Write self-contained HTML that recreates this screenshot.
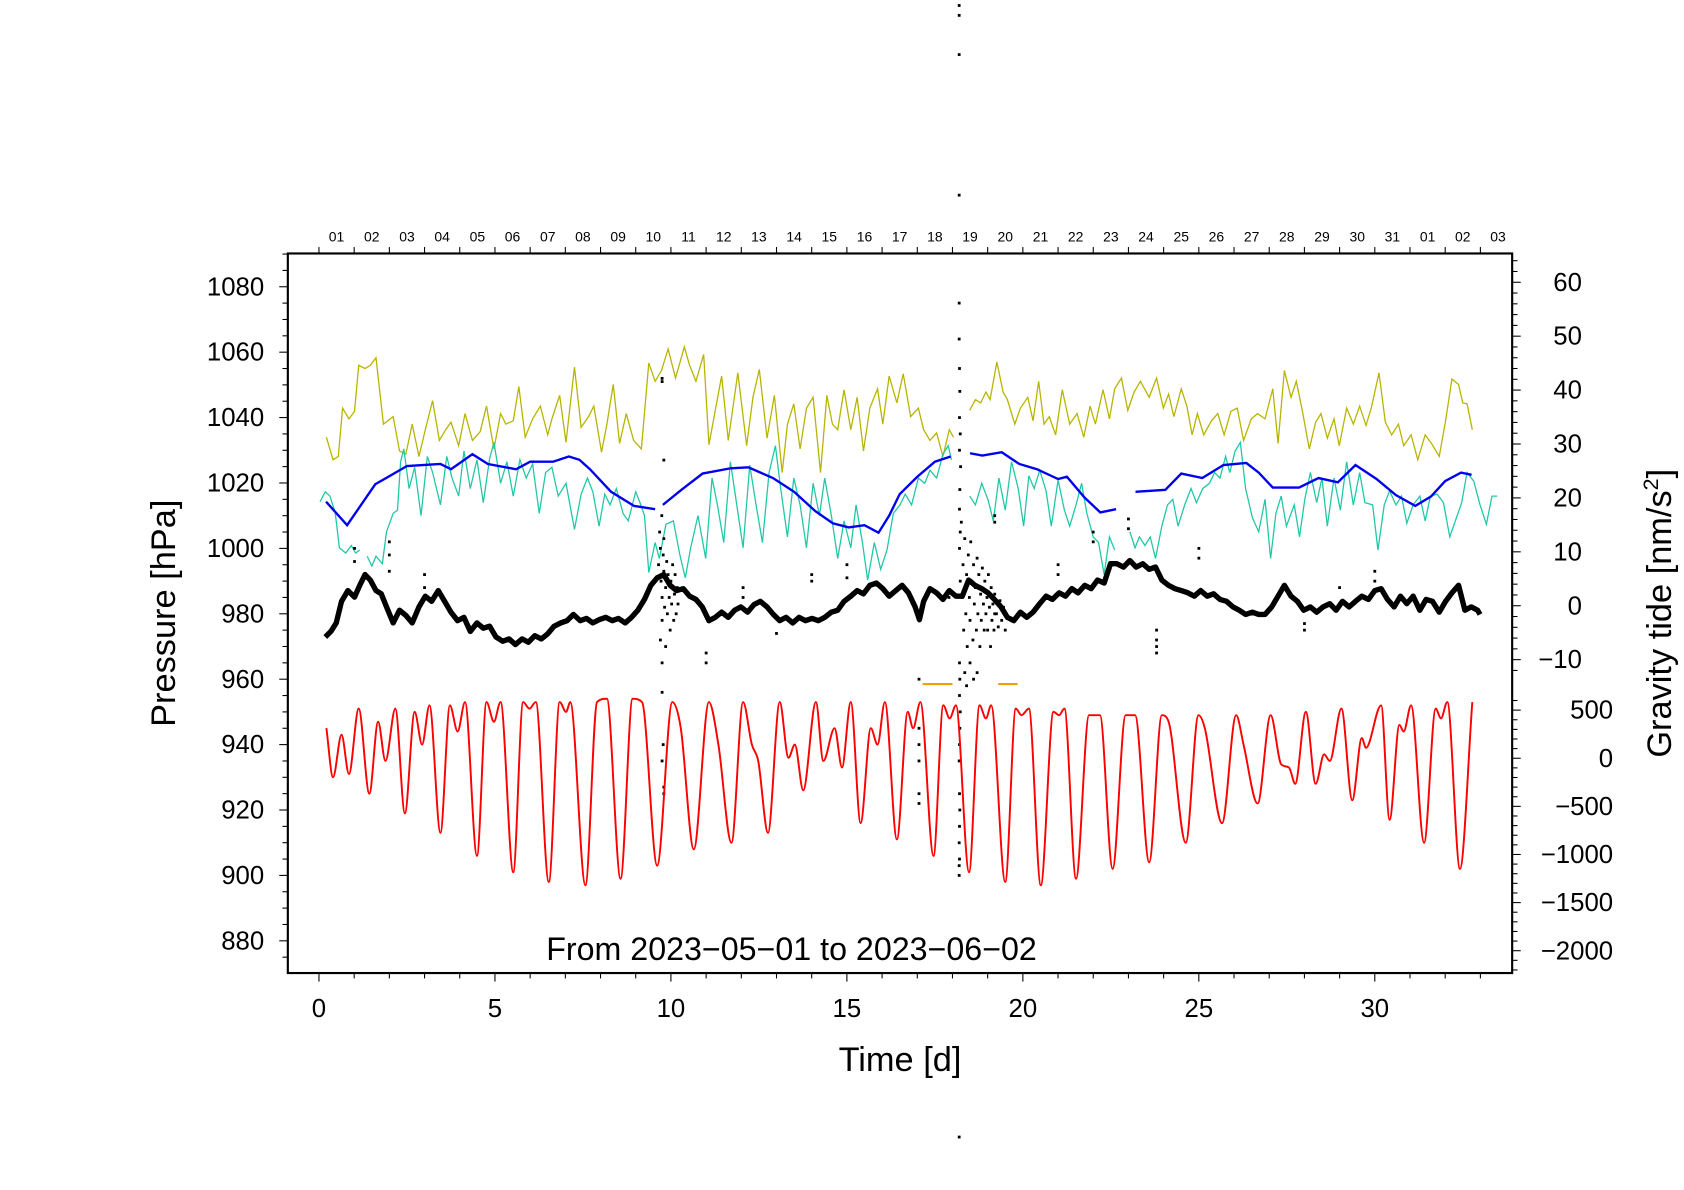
<!DOCTYPE html>
<html><head><meta charset="utf-8"><style>
html,body{margin:0;padding:0;background:#fff;}
svg{display:block;font-family:"Liberation Sans",Arial,sans-serif;}
</style></head><body>
<svg id="chart" width="1684" height="1190" viewBox="0 0 1568 1108" xmlns="http://www.w3.org/2000/svg">
<g id="grid"></g>
<g id="series"></g>
<g id="axes"></g>
<text x="737" y="894" font-size="30" text-anchor="middle">From 2023−05−01 to 2023−06−02</text>
<text x="838" y="997" font-size="32" text-anchor="middle">Time [d]</text>
<text transform="translate(163,571) rotate(-90)" font-size="32" text-anchor="middle">Pressure [hPa]</text>
<text transform="translate(1556,571) rotate(-90)" font-size="32" text-anchor="middle">Gravity tide [nm/s<tspan font-size="20" dy="-12">2</tspan><tspan dy="12">]</tspan></text>
</svg>
<script>
// ---------- data ----------
const xTicks = [0,5,10,15,20,25,30];
const pTicks = [880,900,920,940,960,980,1000,1020,1040,1060,1080];
const gUpperTicks = [-10,0,10,20,30,40,50,60];
const gLowerTicks = [-2000,-1500,-1000,-500,0,500];
const dayLabels = ["01","02","03","04","05","06","07","08","09","10","11","12","13","14","15","16","17","18","19","20","21","22","23","24","25","26","27","28","29","30","31","01","02","03"];

const redT = [0.21,0.40,0.64,0.85,1.13,1.43,1.68,1.89,2.17,2.44,2.72,2.93,3.14,3.45,3.72,3.94,4.15,4.49,4.76,4.97,5.16,5.52,5.80,5.98,6.16,6.53,6.84,7.02,7.14,7.57,7.90,8.18,8.57,8.91,9.18,9.61,10.04,10.28,10.65,11.08,11.35,11.72,12.05,12.30,12.48,12.76,13.09,13.34,13.52,13.76,14.12,14.33,14.65,14.86,15.11,15.39,15.68,15.87,16.08,16.42,16.73,16.88,17.09,17.46,17.74,17.92,18.10,18.47,18.77,18.95,19.10,19.50,19.80,19.96,20.17,20.51,20.87,21.03,21.18,21.51,21.88,22.19,22.55,22.92,23.19,23.59,23.95,24.14,24.63,24.99,25.17,25.66,26.06,26.27,26.67,27.04,27.34,27.56,27.74,28.04,28.32,28.56,28.72,29.05,29.36,29.63,29.75,30.18,30.42,30.70,30.82,31.03,31.40,31.73,31.88,32.06,32.42,32.77];
const redV = [312,-198,244,-164,516,-368,380,-28,516,-572,482,142,550,-776,550,278,584,-1014,584,380,584,-1184,584,516,584,-1286,584,482,584,-1320,584,618,-1252,618,584,-1116,584,312,-946,584,142,-878,584,142,-28,-776,584,6,142,-334,584,-28,312,-96,584,-674,312,142,584,-844,482,312,584,-1014,550,414,550,-1184,550,414,550,-1286,516,448,516,-1320,482,448,516,-1252,448,448,-1150,448,448,-1082,448,380,-878,448,312,-674,448,142,-470,448,-62,-96,-266,482,-266,40,-28,516,-436,210,108,550,-640,346,278,550,-878,516,414,584,-1150,584];

const blueT = [0.2,0.8,1.6,2.5,3.45,3.75,4.36,4.8,5.6,6.0,6.65,7.1,7.4,7.7,8.3,8.95,9.55,null,9.77,10.3,10.9,11.7,12.2,12.9,13.5,14.1,14.6,15.05,15.5,15.9,16.2,16.5,17.0,17.5,17.95,null,18.5,18.85,19.4,19.9,20.4,21.0,21.25,21.75,22.2,22.65,null,23.2,24.05,24.5,25.1,25.7,26.35,26.7,27.1,27.85,28.4,28.95,29.45,30.05,30.6,31.15,31.6,32.0,32.45,32.75];
const blueP = [1014.3,1007.1,1019.6,1025.2,1025.8,1024.2,1028.8,1025.8,1024.2,1026.5,1026.5,1028.1,1027.1,1024.2,1017.3,1013.0,1012.0,null,1013.3,1017.9,1022.9,1024.5,1024.8,1021.5,1017.3,1011.4,1007.7,1006.4,1007.1,1004.8,1010.0,1016.6,1021.9,1026.5,1028.1,null,1029.1,1028.4,1029.4,1025.8,1024.2,1021.2,1021.9,1015.6,1011.0,1012.0,null,1017.3,1017.9,1022.9,1021.5,1025.5,1026.1,1023.2,1018.6,1018.6,1021.5,1020.2,1025.5,1021.2,1016.3,1013.0,1015.9,1020.6,1023.2,1022.5];

const oliveT = [0.21,0.40,0.55,0.67,0.85,1.01,1.13,1.31,1.46,1.62,1.83,2.11,2.29,2.47,2.65,2.84,3.02,3.23,3.42,3.60,3.75,3.97,4.15,4.36,4.58,4.76,4.97,5.16,5.31,5.52,5.68,5.86,6.07,6.29,6.50,6.62,6.84,7.02,7.26,7.45,7.66,7.81,8.03,8.18,8.36,8.54,8.73,8.94,9.16,9.37,9.55,9.73,9.92,10.13,10.38,10.53,10.71,10.93,11.08,11.26,11.44,11.63,11.90,12.15,12.33,12.51,12.73,12.94,13.16,13.31,13.49,13.67,13.85,14.04,14.25,14.43,14.59,14.74,14.92,15.11,15.29,15.47,15.65,15.87,16.02,16.20,16.42,16.60,16.81,17.03,17.18,17.36,17.55,17.73,17.91,18.03,null,18.49,18.65,18.80,18.95,19.07,19.26,19.44,19.56,19.77,19.93,20.14,20.29,20.45,20.60,20.75,20.93,21.12,21.33,21.54,21.73,21.91,22.06,22.28,22.46,22.61,22.80,22.98,23.16,23.34,23.59,23.80,23.99,24.14,24.29,24.50,24.66,24.81,24.96,25.14,25.36,25.54,25.72,25.91,26.09,26.27,26.49,26.67,26.88,27.10,27.25,27.43,27.62,27.77,27.95,28.14,28.32,28.47,28.65,28.84,28.99,29.20,29.39,29.57,29.75,29.90,30.12,30.30,30.48,30.67,30.82,31.03,31.22,31.43,31.61,31.83,32.01,32.19,32.38,32.50,32.62,32.77];
const oliveP = [1034.0,1027.1,1028.1,1042.9,1039.6,1041.9,1056.0,1055.0,1056.0,1058.3,1038.0,1040.3,1029.8,1028.8,1038.0,1028.1,1036.3,1045.2,1033.0,1036.3,1038.6,1031.4,1041.2,1033.0,1035.7,1043.5,1030.4,1041.2,1038.0,1039.0,1049.5,1034.0,1039.6,1043.5,1034.7,1039.6,1046.8,1032.4,1055.4,1037.0,1040.3,1043.5,1029.4,1038.0,1050.1,1032.1,1041.2,1033.0,1030.4,1056.7,1051.1,1054.4,1061.0,1052.1,1061.6,1056.0,1051.1,1059.3,1031.7,1042.2,1052.7,1033.0,1053.7,1031.4,1046.2,1054.7,1033.7,1046.8,1023.2,1038.0,1044.2,1030.4,1042.9,1046.2,1023.2,1046.8,1038.0,1036.3,1048.5,1036.3,1046.2,1029.8,1042.9,1048.8,1038.0,1052.7,1044.5,1053.4,1040.3,1042.9,1036.3,1033.0,1035.3,1028.1,1036.3,1034.0,null,1042.2,1045.5,1044.5,1047.8,1045.5,1057.0,1047.8,1045.5,1038.0,1042.9,1046.2,1039.0,1051.1,1038.0,1040.3,1034.7,1048.5,1038.0,1041.2,1034.0,1043.5,1038.0,1048.5,1039.6,1048.8,1052.1,1042.2,1047.8,1051.1,1046.2,1052.1,1042.9,1047.2,1040.3,1048.8,1043.5,1034.7,1041.2,1034.7,1039.0,1041.2,1034.7,1041.9,1042.9,1033.0,1039.6,1041.2,1039.6,1048.8,1032.1,1054.4,1046.2,1051.1,1041.6,1030.4,1038.6,1041.2,1033.7,1039.6,1031.4,1042.9,1038.0,1043.5,1037.6,1042.9,1053.7,1038.6,1034.7,1038.0,1031.4,1034.7,1027.1,1034.7,1032.1,1028.1,1039.0,1051.8,1050.1,1044.5,1044.2,1036.3];

const cyanT = [0.03,0.18,0.31,0.46,0.58,0.76,0.92,1.04,1.16,null,1.37,1.50,1.62,1.80,1.92,2.11,2.23,2.32,2.41,2.56,2.72,2.90,3.08,3.23,3.45,3.63,3.78,3.97,4.12,4.30,4.49,4.67,4.85,4.97,5.16,5.34,5.52,5.71,5.89,6.07,6.26,6.44,6.62,6.80,7.02,7.26,7.45,7.63,7.78,7.96,8.12,8.27,8.45,8.64,8.79,9.00,9.12,9.25,9.37,9.55,9.67,9.86,10.07,10.25,10.41,10.56,10.77,10.99,11.17,11.32,11.50,11.69,11.87,12.05,12.24,12.42,12.60,12.79,12.97,13.12,13.31,13.49,13.67,13.85,14.04,14.22,14.37,14.56,14.74,14.92,15.11,15.26,15.44,15.59,15.78,15.96,16.14,16.32,16.51,16.66,16.84,17.03,17.21,17.36,17.55,17.73,17.88,17.97,null,18.49,18.65,18.83,19.01,19.16,19.32,19.50,19.68,19.87,20.02,20.17,20.32,20.48,20.66,20.81,21.00,21.18,21.33,21.51,21.67,21.82,22.00,22.15,22.31,22.46,22.61,null,23.04,23.19,23.31,23.47,23.62,23.77,23.95,24.11,24.26,24.41,24.60,24.78,24.93,25.11,25.30,25.45,25.60,25.76,25.88,26.03,26.18,26.33,26.52,26.70,26.88,27.04,27.19,27.34,27.49,27.71,27.86,28.01,28.17,28.35,28.50,28.65,28.84,29.02,29.20,29.39,29.57,29.72,29.94,30.09,30.27,30.42,30.60,30.76,30.91,31.09,31.28,31.43,31.58,31.77,31.95,32.13,32.29,32.47,32.62,32.81,32.99,33.17,33.33,33.48];
const cyanP = [1014.3,1017.3,1016.0,1011.0,1000.2,998.6,1000.9,998.6,999.5,null,997.6,994.6,997.6,995.3,1005.1,1010.7,1011.7,1026.5,1030.4,1018.3,1024.8,1010.0,1028.1,1023.2,1013.3,1028.1,1021.5,1016.0,1029.8,1018.3,1027.1,1014.0,1027.5,1032.4,1019.9,1026.5,1016.0,1027.1,1021.5,1025.8,1010.7,1023.2,1024.8,1016.0,1019.9,1005.8,1016.6,1021.5,1017.3,1006.8,1016.6,1013.3,1018.3,1010.7,1008.4,1017.3,1014.0,1010.0,992.6,1001.8,996.9,1007.4,1008.4,998.2,991.0,1000.2,1010.0,996.9,1021.5,1013.3,1001.8,1026.5,1013.3,1000.2,1025.5,1013.3,1001.8,1023.2,1031.4,1018.3,1003.5,1021.5,1013.3,1000.2,1019.9,1010.0,1021.5,1010.0,996.9,1008.4,1000.2,1013.3,1001.8,990.3,1001.8,993.6,999.5,1010.7,1013.3,1016.6,1013.3,1021.5,1019.9,1023.9,1021.5,1028.8,1031.4,1027.1,null,1016.0,1013.3,1019.9,1014.8,1008.4,1021.5,1011.7,1026.5,1018.3,1006.8,1022.2,1018.3,1023.9,1017.6,1006.8,1020.9,1011.7,1006.8,1013.3,1019.9,1010.7,1003.5,1001.8,992.0,1003.5,999.5,null,1005.1,1000.2,1003.5,1000.9,1003.5,996.9,1006.8,1013.3,1015.0,1006.8,1013.3,1018.3,1014.0,1018.3,1019.9,1023.2,1021.5,1028.1,1023.2,1029.8,1032.4,1018.3,1009.4,1005.1,1015.0,996.9,1010.7,1016.0,1006.8,1013.3,1003.5,1015.0,1023.2,1014.0,1021.5,1006.8,1021.5,1011.7,1026.5,1013.3,1023.2,1014.0,1013.3,999.5,1013.3,1017.6,1013.3,1016.0,1007.7,1013.3,1016.0,1008.4,1016.0,1016.6,1014.0,1003.5,1008.4,1014.0,1023.2,1020.6,1013.3,1007.4,1016.0,1016.0];

const blackT = [0.18,0.34,0.49,0.64,0.82,1.01,1.16,1.31,1.46,1.62,1.77,1.92,2.11,2.29,2.47,2.65,2.84,3.02,3.20,3.39,3.57,3.75,3.94,4.12,4.30,4.49,4.67,4.85,5.03,5.22,5.40,5.58,5.77,5.95,6.13,6.32,6.50,6.68,6.87,7.05,7.23,7.42,7.60,7.78,7.96,8.15,8.33,8.51,8.70,8.88,9.06,9.25,9.43,9.61,9.80,9.98,10.16,10.35,10.53,10.71,10.89,11.08,11.26,11.44,11.63,11.81,11.99,12.18,12.36,12.54,12.73,12.91,13.09,13.27,13.46,13.64,13.82,14.01,14.19,14.37,14.56,14.74,14.92,15.11,15.29,15.47,15.65,15.84,16.02,16.20,16.39,16.57,16.75,16.94,17.06,17.18,17.36,17.55,17.73,17.91,18.10,18.28,18.46,18.64,18.83,19.01,19.19,19.38,19.56,19.74,19.93,20.11,20.29,20.48,20.66,20.84,21.03,21.21,21.39,21.57,21.76,21.94,22.12,22.31,22.49,22.67,22.86,23.04,23.22,23.41,23.59,23.77,23.95,24.14,24.32,24.50,24.69,24.87,25.05,25.24,25.42,25.60,25.79,25.97,26.15,26.33,26.52,26.70,26.88,27.07,27.25,27.43,27.62,27.80,27.98,28.17,28.35,28.53,28.72,28.90,29.08,29.27,29.45,29.63,29.82,30.00,30.18,30.36,30.55,30.73,30.91,31.09,31.28,31.46,31.64,31.83,32.01,32.19,32.38,32.56,32.74,32.92,32.99];
const blackP = [972.9,974.6,977.2,983.8,987.1,985.1,988.7,992.0,990.3,987.1,986.1,982.1,977.2,981.1,979.5,977.2,982.1,985.4,983.8,987.1,983.8,980.5,977.9,978.9,974.6,977.2,975.6,976.2,972.9,971.6,972.3,970.6,972.3,971.3,973.3,972.3,973.9,976.2,977.2,977.9,979.8,977.9,978.6,977.2,978.2,978.9,977.9,978.6,977.2,978.9,981.1,984.4,988.7,991.0,992.0,988.7,987.1,987.7,985.4,984.4,982.1,977.9,978.9,980.5,978.9,981.1,982.1,980.5,982.8,983.8,982.1,979.8,977.9,978.9,977.2,978.9,977.9,978.6,977.9,978.9,980.5,981.1,983.8,985.4,987.1,986.1,988.7,989.4,987.7,985.4,987.1,988.7,986.4,982.1,978.2,983.8,987.7,986.4,984.4,987.1,985.4,985.4,990.3,988.7,987.7,986.4,984.4,982.1,978.9,977.9,980.5,978.9,980.5,983.1,985.4,984.4,986.4,985.4,987.7,986.4,988.7,987.7,990.3,989.4,995.3,995.3,994.3,996.3,994.3,995.3,993.6,994.3,990.3,988.7,987.7,987.1,986.4,985.4,987.1,985.4,986.1,984.4,983.8,982.1,981.1,979.8,980.5,979.8,979.8,982.1,985.4,988.7,985.4,983.8,981.1,982.1,980.5,982.1,983.1,981.1,983.8,982.1,983.8,985.4,984.4,987.1,987.7,984.4,982.1,985.4,983.1,985.4,981.1,984.4,983.8,980.5,983.8,986.4,988.7,981.1,982.1,981.1,979.8];

const dotT = [1.01,1.01,2.0,2.0,2.0,3.0,3.0,9.75,9.75,9.8,9.75,9.75,9.78,9.75,9.8,9.8,11.0,11.0,12.05,12.05,13.0,14.0,14.0,15.0,15.0,17.05,17.05,17.05,17.05,17.05,17.05,17.9,19.2,19.2,19.2,21.0,21.0,22.0,22.0,23.0,23.0,23.8,23.8,23.8,23.8,25.0,25.0,28.0,28.0,29.0,30.0,30.0,
 9.65,9.7,9.72,9.75,9.78,9.8,9.82,9.85,9.88,9.9,9.92,9.95,9.98,10.0,10.02,10.05,10.08,10.1,10.12,10.15,10.18,10.2,9.7,9.75,9.85,9.68,9.74,9.8,
 18.2,18.22,18.25,18.28,18.3,18.32,18.35,18.38,18.4,18.42,18.45,18.48,18.5,18.52,18.55,18.58,18.6,18.62,18.65,18.68,18.7,18.72,18.75,18.78,18.8,18.82,18.85,18.88,18.9,18.92,18.95,18.98,19.0,19.02,19.05,19.08,19.1,19.12,19.15,19.18,19.2,19.25,19.3,19.35,19.4,19.45,19.5,18.35,18.4,18.5,18.6,18.7,
 18.19,18.19,18.19,18.19,18.19,18.19,18.2,18.21,18.2,18.22,18.2,18.23,18.21,18.2,18.22,18.2,18.21,18.2,18.22,18.21,18.2,18.19,18.2,18.21,18.2,18.19,18.2,18.19,18.19,18.19];
const dotP = [1000,996,1002,998,993,992,988,1052,1051,1027,965,956,940,935,927,925,965,968,988,985,974,992,990,995,991,945,940,935,925,922,960,985,980,1010,1008,995,992,1002,1005,1006,1009,970,975,968,972,1000,997,977,975,988,990,993,
 995,1000,990,985,998,993,982,988,996,980,992,985,975,990,983,995,978,986,992,980,988,983,972,978,970,1005,1010,1003,
 1000,990,1008,985,995,975,1003,980,992,970,998,985,978,1002,990,972,995,983,988,975,997,980,992,970,986,978,994,983,975,990,980,985,975,992,982,970,988,978,983,975,986,980,976,984,978,982,975,962,958,965,960,962,
 1166,1163,1151,1108,1075,1064,1055,1048,1040,1035,1030,1025,1018,1012,1005,965,960,955,950,945,940,935,925,920,915,910,905,900,903,820];

const orangeStart = [17.15,19.3];
const orangeEnd = [18.0,19.85];
const orangeP = [958.5,958.5];

// ---------- scales ----------
const X0=297, XPD=32.77;
const xS = t => X0 + XPD*t;
const yP = p => 267 + (1080-p)*3.045;
const yGU = g => 564 - g*5.02;
const yGL = g => 706 - g*0.0896;
const L=268,R=1408,T=236,B=906;
const NS="http://www.w3.org/2000/svg";
function mk(tag, attrs, parent){const e=document.createElementNS(NS,tag);for(const k in attrs)e.setAttribute(k,attrs[k]);parent.appendChild(e);return e;}
const axes=document.getElementById('axes'), series=document.getElementById('series');

function polyPath(ts, vs, fx, fy){
  let d="", pen=false;
  for(let i=0;i<ts.length;i++){
    if(ts[i]===null||vs[i]===null){pen=false;continue;}
    d += (pen?"L":"M")+fx(ts[i]).toFixed(1)+","+fy(vs[i]).toFixed(1);
    pen=true;
  }
  return d;
}
// monotone cubic (no overshoot)
function monoPath(ts, vs, fx, fy){
  const x=ts.map(fx), y=vs.map(fy), n=x.length;
  const dx=[],m=[],s=[];
  for(let i=0;i<n-1;i++){dx[i]=x[i+1]-x[i];s[i]=(y[i+1]-y[i])/dx[i];}
  m[0]=s[0]; m[n-1]=s[n-2];
  for(let i=1;i<n-1;i++){ m[i]=(s[i-1]*s[i]<=0)?0:(s[i-1]+s[i])/2; }
  for(let i=0;i<n-1;i++){
    if(s[i]===0){m[i]=0;m[i+1]=0;continue;}
    const a=m[i]/s[i], b=m[i+1]/s[i], h=a*a+b*b;
    if(h>9){const tt=3/Math.sqrt(h);m[i]=tt*a*s[i];m[i+1]=tt*b*s[i];}
  }
  let d="M"+x[0].toFixed(1)+","+y[0].toFixed(1);
  for(let i=0;i<n-1;i++){
    const h=dx[i]/3;
    d+="C"+(x[i]+h).toFixed(1)+","+(y[i]+m[i]*h).toFixed(1)+" "+(x[i+1]-h).toFixed(1)+","+(y[i+1]-m[i+1]*h).toFixed(1)+" "+x[i+1].toFixed(1)+","+y[i+1].toFixed(1);
  }
  return d;
}

// ---------- series ----------
let e;
e=mk('path',{d:polyPath(oliveT,oliveP,xS,yP),fill:'none',stroke:'#b8b400','stroke-width':1.2},series);


e=mk('path',{d:polyPath(cyanT,cyanP,xS,yP),fill:'none',stroke:'#20c8a8','stroke-width':1.2},series);


e=mk('path',{d:polyPath(blueT,blueP,xS,yP),fill:'none',stroke:'#0000ee','stroke-width':2.2},series);


e=mk('path',{d:polyPath(blackT,blackP,xS,yP),fill:'none',stroke:'#000','stroke-width':5,'stroke-linejoin':'round'},series);


for(let i=0;i<dotT.length;i++){
  const c=mk('rect',{x:(xS(dotT[i])-1.3).toFixed(1),y:(yP(dotP[i])-1.3).toFixed(1),width:2.6,height:2.6,fill:'#000'},series);
  
  
}
for(let i=0;i<orangeStart.length;i++){
  const o=mk('line',{x1:xS(orangeStart[i]),x2:xS(orangeEnd[i]),y1:yP(orangeP[i]),y2:yP(orangeP[i]),stroke:'#f0a000','stroke-width':2},series);
  
  
}
e=mk('path',{d:monoPath(redT,redV,xS,yGL),fill:'none',stroke:'#ff0000','stroke-width':1.8},series);



// ---------- axes ----------
e=mk('rect',{x:L,y:T,width:R-L,height:B-T,fill:'none',stroke:'#000','stroke-width':2},axes);


for(let d=0; d<=33; d++){
  const x=xS(d), major=xTicks.includes(d);
  mk('line',{x1:x,x2:x,y1:B,y2:B+(major?8:5),stroke:'#000','stroke-width':1},axes);
}
xTicks.forEach(v=>{
  const t=mk('text',{x:xS(v),y:B+41,'font-size':24,'text-anchor':'middle'},axes);
  t.textContent=v;
  
  
});
for(let d=0; d<=34; d++){
  const x=xS(d); if(x>R) break;
  mk('line',{x1:x,x2:x,y1:T,y2:T-6,stroke:'#000','stroke-width':1},axes);
}
dayLabels.forEach((s,i)=>{
  const t=mk('text',{x:xS(i+0.5),y:T-11,'font-size':13,'text-anchor':'middle'},axes);
  t.textContent=s;
  
  
});
for(let p=870; p<=1090; p+=5){
  const y=yP(p); if(y<T||y>B) continue;
  const major=p%20===0;
  mk('line',{x1:L,x2:L-(major?8:5),y1:y,y2:y,stroke:'#000','stroke-width':1},axes);
}
pTicks.forEach(v=>{
  const t=mk('text',{x:L-22,y:yP(v)+8,'font-size':24,'text-anchor':'end'},axes);
  t.textContent=v;
  
  
});
for(let g=-12; g<=66; g+=2){
  const y=yGU(g); if(y<T||y>645) continue;
  mk('line',{x1:R,x2:R+(g%10===0?8:5),y1:y,y2:y,stroke:'#000','stroke-width':1},axes);
}
gUpperTicks.forEach(v=>{
  const t=mk('text',{x:1473,y:yGU(v)+8,'font-size':24,'text-anchor':'end'},axes);
  t.textContent=String(v).replace('-','−');
  
  
});
for(let g=-2300; g<=700; g+=100){
  const y=yGL(g); if(y<650||y>B) continue;
  mk('line',{x1:R,x2:R+(g%500===0?8:5),y1:y,y2:y,stroke:'#000','stroke-width':1},axes);
}
gLowerTicks.forEach(v=>{
  const t=mk('text',{x:1502,y:yGL(v)+8,'font-size':24,'text-anchor':'end'},axes);
  t.textContent=String(v).replace('-','−');
  
  
});
</script>
</body></html>
